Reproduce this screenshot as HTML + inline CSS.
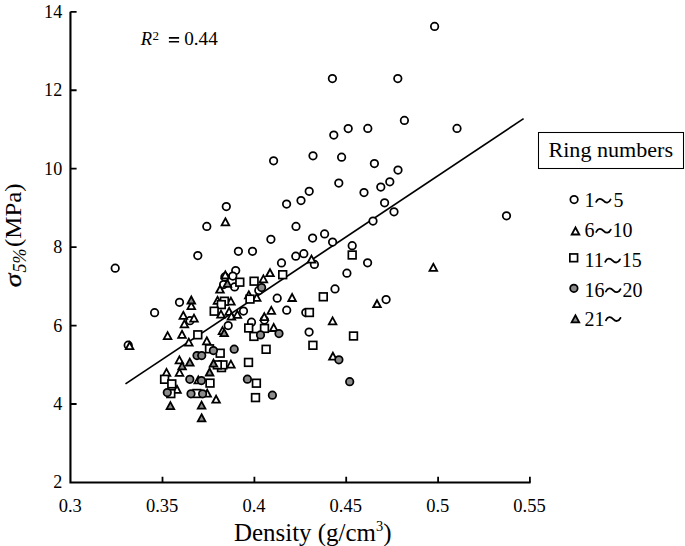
<!DOCTYPE html>
<html><head><meta charset="utf-8"><style>
html,body{margin:0;padding:0;background:#fff;width:685px;height:546px;overflow:hidden}
svg{display:block} body{font-family:"Liberation Serif",serif}
</style></head><body><svg width="685" height="546" viewBox="0 0 685 546"><path d="M70.45 11.8V482.55H530.6" fill="none" stroke="#000" stroke-width="2.1"/><path d="M70.45 404.00H76.6 M70.45 325.56H76.6 M70.45 247.12H76.6 M70.45 168.68H76.6 M70.45 90.24H76.6 M70.45 11.80H76.6 M162.5 482.5V476.8 M254.4 482.5V476.8 M346.2 482.5V476.8 M438.1 482.5V476.8 M529.9 482.5V476.8" stroke="#000" stroke-width="1.8" fill="none"/><path d="M125.5 383.9L523.6 118.6" stroke="#000" stroke-width="1.7" fill="none"/><g stroke="#000" stroke-width="1.75" stroke-linejoin="miter"><circle cx="434.6" cy="26.4" r="3.75" fill="#fff"/><circle cx="332.4" cy="78.6" r="3.75" fill="#fff"/><circle cx="397.8" cy="78.6" r="3.75" fill="#fff"/><circle cx="404.4" cy="120.4" r="3.75" fill="#fff"/><circle cx="348.2" cy="128.6" r="3.75" fill="#fff"/><circle cx="367.8" cy="128.4" r="3.75" fill="#fff"/><circle cx="457" cy="128.4" r="3.75" fill="#fff"/><circle cx="333.8" cy="135" r="3.75" fill="#fff"/><circle cx="313" cy="155.8" r="3.75" fill="#fff"/><circle cx="341.6" cy="157.2" r="3.75" fill="#fff"/><circle cx="374.4" cy="163.6" r="3.75" fill="#fff"/><circle cx="398" cy="170" r="3.75" fill="#fff"/><circle cx="273.6" cy="160.8" r="3.75" fill="#fff"/><circle cx="389.8" cy="181.8" r="3.75" fill="#fff"/><circle cx="380.8" cy="187" r="3.75" fill="#fff"/><circle cx="338.8" cy="183" r="3.75" fill="#fff"/><circle cx="364" cy="192.5" r="3.75" fill="#fff"/><circle cx="309.2" cy="191.3" r="3.75" fill="#fff"/><circle cx="301" cy="200.5" r="3.75" fill="#fff"/><circle cx="286.6" cy="204" r="3.75" fill="#fff"/><circle cx="384.6" cy="202.8" r="3.75" fill="#fff"/><circle cx="394" cy="211.8" r="3.75" fill="#fff"/><circle cx="373" cy="221" r="3.75" fill="#fff"/><circle cx="296" cy="226.4" r="3.75" fill="#fff"/><circle cx="324.6" cy="233.9" r="3.75" fill="#fff"/><circle cx="312.6" cy="238" r="3.75" fill="#fff"/><circle cx="332.6" cy="242" r="3.75" fill="#fff"/><circle cx="352.2" cy="245.7" r="3.75" fill="#fff"/><circle cx="295.8" cy="256.2" r="3.75" fill="#fff"/><circle cx="303.8" cy="253.7" r="3.75" fill="#fff"/><circle cx="314.4" cy="264.4" r="3.75" fill="#fff"/><circle cx="367.6" cy="262.8" r="3.75" fill="#fff"/><circle cx="346.9" cy="273.2" r="3.75" fill="#fff"/><circle cx="335" cy="288.9" r="3.75" fill="#fff"/><circle cx="226.3" cy="206.6" r="3.75" fill="#fff"/><circle cx="206.8" cy="226.4" r="3.75" fill="#fff"/><circle cx="270.9" cy="239.3" r="3.75" fill="#fff"/><circle cx="506.5" cy="215.8" r="3.75" fill="#fff"/><circle cx="115.2" cy="268.2" r="3.75" fill="#fff"/><circle cx="197.8" cy="255.5" r="3.75" fill="#fff"/><circle cx="238.4" cy="251.3" r="3.75" fill="#fff"/><circle cx="252.5" cy="251.3" r="3.75" fill="#fff"/><circle cx="235.7" cy="270.6" r="3.75" fill="#fff"/><circle cx="224.9" cy="276.9" r="3.75" fill="#fff"/><circle cx="232.8" cy="276" r="3.75" fill="#fff"/><circle cx="223.6" cy="284.5" r="3.75" fill="#fff"/><circle cx="234.6" cy="286.9" r="3.75" fill="#fff"/><circle cx="258.8" cy="290.4" r="3.75" fill="#fff"/><circle cx="277.2" cy="298.2" r="3.75" fill="#fff"/><circle cx="243.5" cy="311" r="3.75" fill="#fff"/><circle cx="281.5" cy="262.9" r="3.75" fill="#fff"/><circle cx="179.5" cy="302.3" r="3.75" fill="#fff"/><circle cx="154.6" cy="312.7" r="3.75" fill="#fff"/><circle cx="190" cy="320.7" r="3.75" fill="#fff"/><circle cx="228.2" cy="325.5" r="3.75" fill="#fff"/><circle cx="286.7" cy="310.2" r="3.75" fill="#fff"/><circle cx="264.4" cy="320" r="3.75" fill="#fff"/><circle cx="251.5" cy="322.2" r="3.75" fill="#fff"/><circle cx="305.8" cy="312.5" r="3.75" fill="#fff"/><circle cx="309.1" cy="332.1" r="3.75" fill="#fff"/><circle cx="386.1" cy="299.5" r="3.75" fill="#fff"/><circle cx="128.2" cy="345.2" r="3.75" fill="#fff"/><path d="M311.50 255.60L315.30 262.60H307.70Z" fill="#fff" stroke-width="1.8"/><path d="M225.40 218.30L229.20 225.30H221.60Z" fill="#fff" stroke-width="1.8"/><path d="M433.30 263.80L437.10 270.80H429.50Z" fill="#fff" stroke-width="1.8"/><path d="M225.30 271.30L229.10 278.30H221.50Z" fill="#fff" stroke-width="1.8"/><path d="M220.00 285.70L223.80 292.70H216.20Z" fill="#fff" stroke-width="1.8"/><path d="M263.40 275.40L267.20 282.40H259.60Z" fill="#fff" stroke-width="1.8"/><path d="M270.00 269.20L273.80 276.20H266.20Z" fill="#fff" stroke-width="1.8"/><path d="M256.70 293.90L260.50 300.90H252.90Z" fill="#fff" stroke-width="1.8"/><path d="M248.80 291.30L252.60 298.30H245.00Z" fill="#fff" stroke-width="1.8"/><path d="M217.50 296.80L221.30 303.80H213.70Z" fill="#fff" stroke-width="1.8"/><path d="M230.90 297.60L234.70 304.60H227.10Z" fill="#fff" stroke-width="1.8"/><path d="M229.10 307.80L232.90 314.80H225.30Z" fill="#fff" stroke-width="1.8"/><path d="M271.30 306.90L275.10 313.90H267.50Z" fill="#fff" stroke-width="1.8"/><path d="M292.10 294.00L295.90 301.00H288.30Z" fill="#fff" stroke-width="1.8"/><path d="M191.30 302.10L195.10 309.10H187.50Z" fill="#fff" stroke-width="1.8"/><path d="M183.30 311.80L187.10 318.80H179.50Z" fill="#fff" stroke-width="1.8"/><path d="M194.00 314.60L197.80 321.60H190.20Z" fill="#fff" stroke-width="1.8"/><path d="M184.40 320.40L188.20 327.40H180.60Z" fill="#fff" stroke-width="1.8"/><path d="M167.60 332.10L171.40 339.10H163.80Z" fill="#fff" stroke-width="1.8"/><path d="M182.00 330.80L185.80 337.80H178.20Z" fill="#fff" stroke-width="1.8"/><path d="M188.80 338.60L192.60 345.60H185.00Z" fill="#fff" stroke-width="1.8"/><path d="M206.80 337.30L210.60 344.30H203.00Z" fill="#fff" stroke-width="1.8"/><path d="M221.00 310.60L224.80 317.60H217.20Z" fill="#fff" stroke-width="1.8"/><path d="M231.40 312.60L235.20 319.60H227.60Z" fill="#fff" stroke-width="1.8"/><path d="M237.40 310.90L241.20 317.90H233.60Z" fill="#fff" stroke-width="1.8"/><path d="M222.50 327.10L226.30 334.10H218.70Z" fill="#fff" stroke-width="1.8"/><path d="M264.30 313.20L268.10 320.20H260.50Z" fill="#fff" stroke-width="1.8"/><path d="M273.70 324.00L277.50 331.00H269.90Z" fill="#fff" stroke-width="1.8"/><path d="M377.00 300.20L380.80 307.20H373.20Z" fill="#fff" stroke-width="1.8"/><path d="M332.60 317.40L336.40 324.40H328.80Z" fill="#fff" stroke-width="1.8"/><path d="M332.90 352.70L336.70 359.70H329.10Z" fill="#fff" stroke-width="1.8"/><path d="M129.60 342.20L133.40 349.20H125.80Z" fill="#fff" stroke-width="1.8"/><path d="M179.40 356.40L183.20 363.40H175.60Z" fill="#fff" stroke-width="1.8"/><path d="M179.50 368.90L183.30 375.90H175.70Z" fill="#fff" stroke-width="1.8"/><path d="M166.50 368.90L170.30 375.90H162.70Z" fill="#fff" stroke-width="1.8"/><path d="M177.00 385.80L180.80 392.80H173.20Z" fill="#fff" stroke-width="1.8"/><path d="M198.30 376.40L202.10 383.40H194.50Z" fill="#fff" stroke-width="1.8"/><path d="M207.20 389.70L211.00 396.70H203.40Z" fill="#fff" stroke-width="1.8"/><path d="M230.90 360.60L234.70 367.60H227.10Z" fill="#fff" stroke-width="1.8"/><path d="M216.10 395.70L219.90 402.70H212.30Z" fill="#fff" stroke-width="1.8"/><rect x="348.35" y="251.15" width="7.7" height="7.7" fill="#fff" stroke-width="1.7"/><rect x="235.95" y="278.35" width="7.7" height="7.7" fill="#fff" stroke-width="1.7"/><rect x="250.25" y="277.35" width="7.7" height="7.7" fill="#fff" stroke-width="1.7"/><rect x="246.15" y="295.25" width="7.7" height="7.7" fill="#fff" stroke-width="1.7"/><rect x="220.55" y="297.35" width="7.7" height="7.7" fill="#fff" stroke-width="1.7"/><rect x="217.45" y="300.75" width="7.7" height="7.7" fill="#fff" stroke-width="1.7"/><rect x="210.35" y="307.35" width="7.7" height="7.7" fill="#fff" stroke-width="1.7"/><rect x="278.85" y="270.85" width="7.7" height="7.7" fill="#fff" stroke-width="1.7"/><rect x="319.45" y="292.95" width="7.7" height="7.7" fill="#fff" stroke-width="1.7"/><rect x="193.95" y="330.95" width="7.7" height="7.7" fill="#fff" stroke-width="1.7"/><rect x="244.85" y="324.15" width="7.7" height="7.7" fill="#fff" stroke-width="1.7"/><rect x="260.65" y="324.55" width="7.7" height="7.7" fill="#fff" stroke-width="1.7"/><rect x="250.05" y="332.55" width="7.7" height="7.7" fill="#fff" stroke-width="1.7"/><rect x="262.25" y="345.45" width="7.7" height="7.7" fill="#fff" stroke-width="1.7"/><rect x="305.55" y="308.65" width="7.7" height="7.7" fill="#fff" stroke-width="1.7"/><rect x="349.65" y="332.15" width="7.7" height="7.7" fill="#fff" stroke-width="1.7"/><rect x="309.05" y="341.45" width="7.7" height="7.7" fill="#fff" stroke-width="1.7"/><rect x="205.65" y="344.95" width="7.7" height="7.7" fill="#fff" stroke-width="1.7"/><rect x="216.35" y="349.35" width="7.7" height="7.7" fill="#fff" stroke-width="1.7"/><rect x="160.75" y="375.45" width="7.7" height="7.7" fill="#fff" stroke-width="1.7"/><rect x="167.95" y="380.05" width="7.7" height="7.7" fill="#fff" stroke-width="1.7"/><rect x="166.95" y="389.75" width="7.7" height="7.7" fill="#fff" stroke-width="1.7"/><rect x="193.05" y="389.65" width="7.7" height="7.7" fill="#fff" stroke-width="1.7"/><rect x="217.65" y="363.75" width="7.7" height="7.7" fill="#fff" stroke-width="1.7"/><rect x="219.05" y="361.00" width="7.7" height="7.7" fill="#fff" stroke-width="1.7"/><rect x="213.45" y="361.00" width="7.7" height="7.7" fill="#fff" stroke-width="1.7"/><rect x="244.65" y="358.55" width="7.7" height="7.7" fill="#fff" stroke-width="1.7"/><rect x="252.55" y="379.35" width="7.7" height="7.7" fill="#fff" stroke-width="1.7"/><rect x="206.15" y="379.25" width="7.7" height="7.7" fill="#fff" stroke-width="1.7"/><rect x="251.65" y="393.75" width="7.7" height="7.7" fill="#fff" stroke-width="1.7"/><circle cx="261.6" cy="287.6" r="3.75" fill="#8a8a8a"/><circle cx="279" cy="333.6" r="3.75" fill="#8a8a8a"/><circle cx="260.5" cy="334.9" r="3.75" fill="#8a8a8a"/><circle cx="197" cy="355.5" r="3.75" fill="#8a8a8a"/><circle cx="201.7" cy="355.5" r="3.75" fill="#8a8a8a"/><circle cx="213.4" cy="350.5" r="3.75" fill="#8a8a8a"/><circle cx="234.2" cy="349.2" r="3.75" fill="#8a8a8a"/><circle cx="338.9" cy="359.8" r="3.75" fill="#8a8a8a"/><circle cx="349.7" cy="381.7" r="3.75" fill="#8a8a8a"/><circle cx="167.3" cy="392.5" r="3.75" fill="#8a8a8a"/><circle cx="189.8" cy="379.3" r="3.75" fill="#8a8a8a"/><circle cx="201.4" cy="380.5" r="3.75" fill="#8a8a8a"/><circle cx="191" cy="393.8" r="3.75" fill="#8a8a8a"/><circle cx="202.6" cy="393.8" r="3.75" fill="#8a8a8a"/><circle cx="247.4" cy="379.2" r="3.75" fill="#8a8a8a"/><circle cx="272.4" cy="395.2" r="3.75" fill="#8a8a8a"/><path d="M227.40 279.80L231.20 286.80H223.60Z" fill="#8a8a8a" stroke-width="1.8"/><path d="M191.30 296.50L195.10 303.50H187.50Z" fill="#8a8a8a" stroke-width="1.8"/><path d="M182.10 362.40L185.90 369.40H178.30Z" fill="#8a8a8a" stroke-width="1.8"/><path d="M189.80 358.60L193.60 365.60H186.00Z" fill="#8a8a8a" stroke-width="1.8"/><path d="M213.50 359.70L217.30 366.70H209.70Z" fill="#8a8a8a" stroke-width="1.8"/><path d="M209.60 368.50L213.40 375.50H205.80Z" fill="#8a8a8a" stroke-width="1.8"/><path d="M170.40 402.10L174.20 409.10H166.60Z" fill="#8a8a8a" stroke-width="1.8"/><path d="M201.60 401.60L205.40 408.60H197.80Z" fill="#8a8a8a" stroke-width="1.8"/><path d="M201.60 414.30L205.40 421.30H197.80Z" fill="#8a8a8a" stroke-width="1.8"/><path d="M224.20 329.20L228.00 336.20H220.40Z" fill="#8a8a8a" stroke-width="1.8"/><circle cx="574.1" cy="199.6" r="3.75" fill="#fff"/><path d="M575.50 227.50L579.30 234.50H571.70Z" fill="#fff" stroke-width="1.8"/><rect x="569.85" y="253.95" width="7.7" height="7.7" fill="#fff" stroke-width="1.7"/><circle cx="573.9" cy="288.3" r="3.75" fill="#8a8a8a"/><path d="M575.40 315.30L579.20 322.30H571.60Z" fill="#8a8a8a" stroke-width="1.8"/></g><g font-family="Liberation Serif, serif" font-size="19.5" fill="#000"><text transform="translate(62.2 488.3) scale(0.93 1)" text-anchor="end">2</text><text transform="translate(62.2 409.9) scale(0.93 1)" text-anchor="end">4</text><text transform="translate(62.2 331.5) scale(0.93 1)" text-anchor="end">6</text><text transform="translate(62.2 253.0) scale(0.93 1)" text-anchor="end">8</text><text transform="translate(62.2 174.6) scale(0.93 1)" text-anchor="end">10</text><text transform="translate(62.2 96.1) scale(0.93 1)" text-anchor="end">12</text><text transform="translate(62.2 17.7) scale(0.93 1)" text-anchor="end">14</text><text transform="translate(70.3 511.8) scale(0.95 1)" text-anchor="middle">0.3</text><text transform="translate(162.1 511.8) scale(0.95 1)" text-anchor="middle">0.35</text><text transform="translate(254.0 511.8) scale(0.95 1)" text-anchor="middle">0.4</text><text transform="translate(345.8 511.8) scale(0.95 1)" text-anchor="middle">0.45</text><text transform="translate(437.7 511.8) scale(0.95 1)" text-anchor="middle">0.5</text><text transform="translate(529.5 511.8) scale(0.95 1)" text-anchor="middle">0.55</text></g><text font-family="Liberation Serif, serif" font-size="25" fill="#000" x="234" y="540.5" textLength="157.5" lengthAdjust="spacingAndGlyphs">Density (g/cm<tspan font-size="14.5" dy="-9.2">3</tspan><tspan dy="9.2">)</tspan></text><g font-family="Liberation Serif, serif" fill="#000" transform="translate(20.7,287.5) rotate(-90)"><text font-size="24" font-style="italic" transform="translate(0.3 0) scale(1.15 1)" stroke="#000" stroke-width="0.35">σ</text><text font-size="18" font-style="italic" x="15" y="5.3">5%</text><text font-size="23.5" x="40.5" y="0" textLength="63.6" lengthAdjust="spacingAndGlyphs">(MPa)</text></g><text font-family="Liberation Serif, serif" font-size="18.5" font-style="italic" fill="#000" x="140.8" y="44.5">R</text><text font-family="Liberation Serif, serif" font-size="13" fill="#000" x="152.6" y="39.7">2</text><path d="M168.9 37.9H179.1M168.9 41.75H179.1" stroke="#000" stroke-width="1.6"/><text font-family="Liberation Serif, serif" font-size="19.2" fill="#000" x="184.2" y="44.8">0.44</text><rect x="538.5" y="132.5" width="145" height="36" fill="none" stroke="#000" stroke-width="1.05"/><text font-family="Liberation Serif, serif" font-size="21.5" fill="#000" x="548.5" y="156.8" textLength="124.5" lengthAdjust="spacingAndGlyphs">Ring numbers</text><g font-family="Liberation Serif, serif" font-size="20" fill="#000"><text x="584.5" y="207.1">1</text><text x="613.6" y="207.1">5</text><text x="584.5" y="237.2">6</text><text x="612.6" y="237.2">10</text><text x="584.5" y="267.0">11</text><text x="621.8" y="267.0">15</text><text x="584.5" y="296.7">16</text><text x="622.4" y="296.7">20</text><text x="584.5" y="325.5">21</text></g><path d="M596.2 201.90C597.9 197.90 601.0 198.10 603.4 200.70S608.9 203.50 610.6 199.50" fill="none" stroke="#000" stroke-width="1.8" stroke-linecap="round"/><path d="M596.2 232.00C598.0 228.00 601.0 228.20 603.5 230.80S609.0 233.60 610.8 229.60" fill="none" stroke="#000" stroke-width="1.8" stroke-linecap="round"/><path d="M605.2 261.80C607.0 257.80 610.1 258.00 612.6 260.60S618.2 263.40 620.0 259.40" fill="none" stroke="#000" stroke-width="1.8" stroke-linecap="round"/><path d="M605.9 291.50C607.7 287.50 610.7 287.70 613.2 290.30S618.7 293.10 620.5 289.10" fill="none" stroke="#000" stroke-width="1.8" stroke-linecap="round"/><path d="M605.9 320.30C607.7 316.30 610.7 316.50 613.2 319.10S618.7 321.90 620.5 317.90" fill="none" stroke="#000" stroke-width="1.8" stroke-linecap="round"/></svg></body></html>
